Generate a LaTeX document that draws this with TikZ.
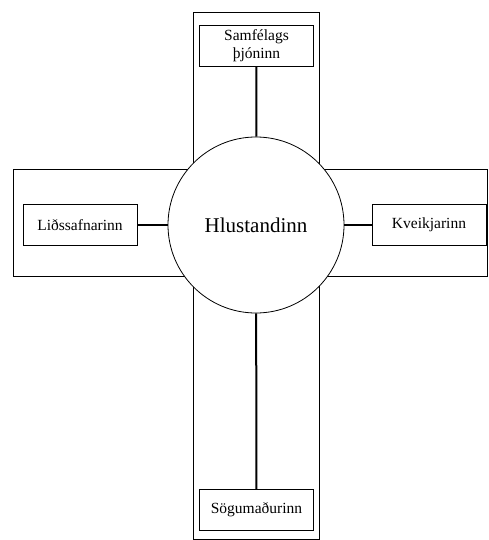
\documentclass[tikz,border=0pt]{standalone}
\usepackage{fontspec}
\setmainfont{Liberation Serif}
\usetikzlibrary{positioning}
\tikzset{
  rolebox/.style={draw, fill=white, line width=0.8pt, inner sep=0pt,
    minimum width=114pt, minimum height=41pt, align=center,
    font=\fontsize{15.5}{17.5}\selectfont},
  hub/.style={draw, circle, fill=white, line width=0.8pt, minimum size=176pt,
    inner sep=0pt, font=\fontsize{21}{24}\selectfont},
  link/.style={line width=2pt},
  band/.style={line width=0.8pt}
}
\begin{document}
\begin{tikzpicture}[x=1pt,y=-1pt]
  \useasboundingbox (0,0) rectangle (488,540);

  % the two bands of the cross
  \draw[band] (193,12) rectangle (319,539.5);
  \draw[band] (13,169) rectangle (487.5,276);

  \coordinate (C) at (256,225);
  \node[hub] (listener) at (C) {Hlustandinn};

  \node[rolebox] (servant) at (256.5,45.5) {Samfélags\\þjóninn};
  \node[rolebox] (gatherer) at (80,225) {Liðssafnarinn};
  \node[rolebox] (igniter) at (429,225) {Kveikjarinn};
  \node[rolebox] (teller) at (256.5,510) {Sögumaðurinn};

  \draw[link] (servant) -- (listener);
  \draw[link] (gatherer) -- (listener);
  \draw[link] (igniter) -- (listener);
  \draw[link] (teller) -- (listener);
\end{tikzpicture}
\end{document}
